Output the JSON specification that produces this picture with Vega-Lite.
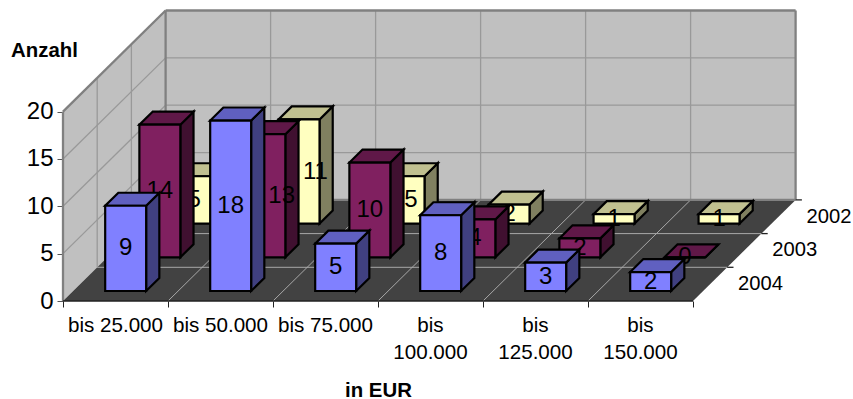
{
  "$schema": "https://vega.github.io/schema/vega-lite/v6.json",
  "width": 853,
  "height": 399,
  "autosize": {"type": "none"},
  "padding": 0,
  "background": "white",
  "config": {"view": {"stroke": null}, "font": "Liberation Sans"},
  "params": [
    {"name": "depthX", "value": 0.3257},
    {"name": "depthY", "value": 3.559}
  ],
  "datasets": {
    "counts": [
      {"range": "bis 25.000", "year": 2002, "count": 5},
      {"range": "bis 50.000", "year": 2002, "count": 11},
      {"range": "bis 75.000", "year": 2002, "count": 5},
      {"range": "bis 100.000", "year": 2002, "count": 2},
      {"range": "bis 125.000", "year": 2002, "count": 1},
      {"range": "bis 150.000", "year": 2002, "count": 1},
      {"range": "bis 25.000", "year": 2003, "count": 14},
      {"range": "bis 50.000", "year": 2003, "count": 13},
      {"range": "bis 75.000", "year": 2003, "count": 10},
      {"range": "bis 100.000", "year": 2003, "count": 4},
      {"range": "bis 125.000", "year": 2003, "count": 2},
      {"range": "bis 150.000", "year": 2003, "count": 0},
      {"range": "bis 25.000", "year": 2004, "count": 9},
      {"range": "bis 50.000", "year": 2004, "count": 18},
      {"range": "bis 75.000", "year": 2004, "count": 5},
      {"range": "bis 100.000", "year": 2004, "count": 8},
      {"range": "bis 125.000", "year": 2004, "count": 3},
      {"range": "bis 150.000", "year": 2004, "count": 2}
    ],
    "frame": [
      {"part": "wall", "c0": 0, "v0": 5, "d0": 3, "c1": 6, "v1": 5, "d1": 3},
      {"part": "wall", "c0": 0, "v0": 10, "d0": 3, "c1": 6, "v1": 10, "d1": 3},
      {"part": "wall", "c0": 0, "v0": 15, "d0": 3, "c1": 6, "v1": 15, "d1": 3},
      {"part": "wall", "c0": 1, "v0": 0, "d0": 3, "c1": 1, "v1": 20, "d1": 3},
      {"part": "wall", "c0": 2, "v0": 0, "d0": 3, "c1": 2, "v1": 20, "d1": 3},
      {"part": "wall", "c0": 3, "v0": 0, "d0": 3, "c1": 3, "v1": 20, "d1": 3},
      {"part": "wall", "c0": 4, "v0": 0, "d0": 3, "c1": 4, "v1": 20, "d1": 3},
      {"part": "wall", "c0": 5, "v0": 0, "d0": 3, "c1": 5, "v1": 20, "d1": 3},
      {"part": "wall", "c0": 0, "v0": 5, "d0": 0, "c1": 0, "v1": 5, "d1": 3},
      {"part": "wall", "c0": 0, "v0": 10, "d0": 0, "c1": 0, "v1": 10, "d1": 3},
      {"part": "wall", "c0": 0, "v0": 15, "d0": 0, "c1": 0, "v1": 15, "d1": 3},
      {"part": "wall", "c0": 0, "v0": 0, "d0": 1, "c1": 0, "v1": 20, "d1": 1},
      {"part": "wall", "c0": 0, "v0": 0, "d0": 2, "c1": 0, "v1": 20, "d1": 2},
      {"part": "floor", "c0": 0, "v0": 0, "d0": 1, "c1": 6, "v1": 0, "d1": 1},
      {"part": "floor", "c0": 0, "v0": 0, "d0": 2, "c1": 6, "v1": 0, "d1": 2},
      {"part": "floor", "c0": 1, "v0": 0, "d0": 0, "c1": 1, "v1": 0, "d1": 3},
      {"part": "floor", "c0": 2, "v0": 0, "d0": 0, "c1": 2, "v1": 0, "d1": 3},
      {"part": "floor", "c0": 3, "v0": 0, "d0": 0, "c1": 3, "v1": 0, "d1": 3},
      {"part": "floor", "c0": 4, "v0": 0, "d0": 0, "c1": 4, "v1": 0, "d1": 3},
      {"part": "floor", "c0": 5, "v0": 0, "d0": 0, "c1": 5, "v1": 0, "d1": 3},
      {"part": "edge", "c0": 0, "v0": 20, "d0": 3, "c1": 6, "v1": 20, "d1": 3},
      {"part": "edge", "c0": 0, "v0": 0, "d0": 3, "c1": 0, "v1": 20, "d1": 3},
      {"part": "edge", "c0": 6, "v0": 0, "d0": 3, "c1": 6, "v1": 20, "d1": 3},
      {"part": "edge", "c0": 0, "v0": 0, "d0": 3, "c1": 6, "v1": 0, "d1": 3},
      {"part": "edge", "c0": 0, "v0": 20, "d0": 0, "c1": 0, "v1": 20, "d1": 3},
      {"part": "edge", "c0": 0, "v0": 0, "d0": 0, "c1": 0, "v1": 20, "d1": 0},
      {"part": "axis", "c0": 0, "v0": 0, "d0": 0, "c1": 6, "v1": 0, "d1": 0},
      {"part": "axis", "c0": 6, "v0": 0, "d0": 1, "c1": 6.06, "v1": 0, "d1": 1},
      {"part": "axis", "c0": 6, "v0": 0, "d0": 2, "c1": 6.06, "v1": 0, "d1": 2},
      {"part": "axis", "c0": 6, "v0": 0, "d0": 3, "c1": 6.06, "v1": 0, "d1": 3}
    ]
  },
  "encoding": {
    "x": {
      "field": "px",
      "type": "quantitative",
      "scale": {"domain": [-0.6, 7.5238], "nice": false, "zero": false},
      "axis": {
        "orient": "bottom",
        "offset": -98,
        "values": [0, 1, 2, 3, 4, 5, 6],
        "labels": false,
        "grid": false,
        "domain": false,
        "tickSize": 6,
        "tickColor": "#222222",
        "title": "in EUR",
        "titleFont": "Liberation Sans",
        "titleFontSize": 20.4,
        "titleFontWeight": "bold",
        "titleColor": "black",
        "titleAnchor": "start",
        "titleAlign": "center",
        "titleBaseline": "middle",
        "titleX": 378,
        "titleY": 89
      }
    },
    "y": {
      "field": "py",
      "type": "quantitative",
      "scale": {"domain": [-10.348, 31.785], "nice": false, "zero": false},
      "axis": {
        "orient": "left",
        "offset": -63,
        "values": [0, 5, 10, 15, 20],
        "grid": false,
        "domain": false,
        "tickSize": 6,
        "tickColor": "#555555",
        "labelFont": "Liberation Sans",
        "labelFontSize": 24,
        "labelColor": "black",
        "labelPadding": 4,
        "title": "Anzahl",
        "titleFont": "Liberation Sans",
        "titleFontSize": 20.4,
        "titleFontWeight": "bold",
        "titleColor": "black",
        "titleAngle": 0,
        "titleAlign": "center",
        "titleBaseline": "middle",
        "titleX": -19,
        "titleY": 50
      }
    }
  },
  "layer": [
    {
      "description": "Back wall",
      "data": {"values": [{"panel": "back"}]},
      "transform": [
        {"calculate": "3 * depthX", "as": "px"},
        {"calculate": "6 + 3 * depthX", "as": "px2"},
        {"calculate": "3 * depthY", "as": "py"},
        {"calculate": "20 + 3 * depthY", "as": "py2"}
      ],
      "mark": {"type": "rect", "fill": "#c0c0c0"},
      "encoding": {"x2": {"field": "px2"}, "y2": {"field": "py2"}}
    },
    {
      "description": "Left wall",
      "data": {"values": [{"depth": 0}, {"depth": 3}]},
      "transform": [
        {"calculate": "datum.depth * depthX", "as": "px"},
        {"calculate": "20 + datum.depth * depthY", "as": "py"},
        {"calculate": "datum.depth * depthY", "as": "py2"}
      ],
      "mark": {"type": "area", "fill": "#c0c0c0", "opacity": 1},
      "encoding": {"y2": {"field": "py2"}}
    },
    {
      "description": "Floor",
      "data": {"values": [{"depth": 0}, {"depth": 3}]},
      "transform": [
        {"calculate": "datum.depth * depthX", "as": "px"},
        {"calculate": "6 + datum.depth * depthX", "as": "px2"},
        {"calculate": "datum.depth * depthY", "as": "py"}
      ],
      "mark": {"type": "area", "orient": "horizontal", "fill": "#424242", "opacity": 1},
      "encoding": {"x2": {"field": "px2"}}
    },
    {
      "description": "Grid lines and frame edges",
      "data": {"name": "frame"},
      "transform": [
        {"calculate": "datum.c0 + datum.d0 * depthX", "as": "px"},
        {"calculate": "datum.c1 + datum.d1 * depthX", "as": "px2"},
        {"calculate": "datum.v0 + datum.d0 * depthY", "as": "py"},
        {"calculate": "datum.v1 + datum.d1 * depthY", "as": "py2"}
      ],
      "layer": [
        {
          "transform": [{"filter": "datum.part === 'wall'"}],
          "mark": {"type": "rule", "stroke": "#999999", "strokeWidth": 1.3},
          "encoding": {"x2": {"field": "px2"}, "y2": {"field": "py2"}}
        },
        {
          "transform": [{"filter": "datum.part === 'floor'"}],
          "mark": {"type": "rule", "stroke": "#a8a8a8", "strokeWidth": 1},
          "encoding": {"x2": {"field": "px2"}, "y2": {"field": "py2"}}
        },
        {
          "transform": [{"filter": "datum.part === 'edge'"}],
          "mark": {"type": "rule", "stroke": "#808080", "strokeWidth": 2.3},
          "encoding": {"x2": {"field": "px2"}, "y2": {"field": "py2"}}
        },
        {
          "transform": [{"filter": "datum.part === 'axis'"}],
          "mark": {"type": "rule", "stroke": "#222222", "strokeWidth": 1.3},
          "encoding": {"x2": {"field": "px2"}, "y2": {"field": "py2"}}
        }
      ]
    },
    {
      "description": "Income range labels under the front edge",
      "data": {
        "values": [
          {"cat": 0, "lines": ["bis 25.000"]},
          {"cat": 1, "lines": ["bis 50.000"]},
          {"cat": 2, "lines": ["bis 75.000"]},
          {"cat": 3, "lines": ["bis", "100.000"]},
          {"cat": 4, "lines": ["bis", "125.000"]},
          {"cat": 5, "lines": ["bis", "150.000"]}
        ]
      },
      "transform": [
        {"calculate": "datum.cat + 0.5", "as": "px"},
        {"calculate": "0", "as": "py"}
      ],
      "mark": {"type": "text", "fontSize": 20.6, "align": "center", "baseline": "alphabetic", "dy": 30.7, "lineHeight": 27.3, "color": "black"},
      "encoding": {"text": {"field": "lines", "type": "nominal"}}
    },
    {
      "description": "Year labels along the depth edge",
      "data": {"values": [{"year": 2002}, {"year": 2003}, {"year": 2004}]},
      "transform": [
        {"calculate": "6 + (2004 - datum.year + 0.5) * depthX", "as": "px"},
        {"calculate": "(2004 - datum.year + 0.5) * depthY", "as": "py"}
      ],
      "mark": {"type": "text", "fontSize": 20.2, "align": "left", "baseline": "middle", "dx": 28, "color": "black"},
      "encoding": {"text": {"field": "year", "type": "nominal"}}
    },
    {
      "description": "Bars, back row first so nearer rows cover farther ones",
      "data": {"name": "counts"},
      "transform": [
        {"calculate": "2004 - datum.year", "as": "depth"},
        {"calculate": "indexof(['bis 25.000','bis 50.000','bis 75.000','bis 100.000','bis 125.000','bis 150.000'], datum.range)", "as": "cat"},
        {"calculate": "datum.cat + 0.305 + (datum.depth + 0.297) * depthX", "as": "left"},
        {"calculate": "datum.cat + 0.695 + (datum.depth + 0.297) * depthX", "as": "right"},
        {"calculate": "(datum.depth + 0.297) * depthY", "as": "base"},
        {"calculate": "datum.base + datum.count", "as": "roof"},
        {"calculate": "0", "as": "near"},
        {"calculate": "1", "as": "far"},
        {"fold": ["near", "far"], "as": ["corner", "t"]},
        {"calculate": "datum.t * 0.386 * depthX", "as": "shiftX"},
        {"calculate": "datum.t * 0.386 * depthY", "as": "shiftY"}
      ],
      "layer": [
        {
          "transform": [{"filter": "datum.year === 2002"}],
          "layer": [
            {
              "transform": [
                {"calculate": "datum.right + datum.shiftX", "as": "px"},
                {"calculate": "datum.roof + datum.shiftY", "as": "py"},
                {"calculate": "datum.base + datum.shiftY", "as": "py2"}
              ],
              "mark": {"type": "area", "fill": "#808060", "stroke": "black", "strokeWidth": 2.2, "opacity": 1},
              "encoding": {"y2": {"field": "py2"}, "detail": {"field": "range"}}
            },
            {
              "transform": [
                {"calculate": "datum.left + datum.shiftX", "as": "px"},
                {"calculate": "datum.right + datum.shiftX", "as": "px2"},
                {"calculate": "datum.roof + datum.shiftY", "as": "py"}
              ],
              "mark": {"type": "area", "orient": "horizontal", "fill": "#c0c090", "stroke": "black", "strokeWidth": 2.2, "opacity": 1},
              "encoding": {"x2": {"field": "px2"}, "detail": {"field": "range"}}
            },
            {
              "transform": [
                {"filter": "datum.t === 0"},
                {"calculate": "datum.left", "as": "px"},
                {"calculate": "datum.right", "as": "px2"},
                {"calculate": "datum.roof", "as": "py"},
                {"calculate": "datum.base", "as": "py2"}
              ],
              "mark": {"type": "rect", "fill": "#ffffc0", "stroke": "black", "strokeWidth": 2.2},
              "encoding": {"x2": {"field": "px2"}, "y2": {"field": "py2"}}
            },
            {
              "description": "The labels of the two middle columns sit right of centre, clear of the bars in front",
              "transform": [
                {"filter": "datum.t === 0"},
                {"calculate": "(datum.left + datum.right) / 2 + (datum.range === 'bis 50.000' ? 0.155 : datum.range === 'bis 75.000' ? 0.065 : 0)", "as": "px"},
                {"calculate": "(datum.roof + datum.base) / 2", "as": "py"}
              ],
              "mark": {"type": "text", "fontSize": 24, "baseline": "middle", "color": "black"},
              "encoding": {"text": {"field": "count", "type": "quantitative"}}
            }
          ]
        },
        {
          "transform": [{"filter": "datum.year === 2003"}],
          "layer": [
            {
              "transform": [
                {"calculate": "datum.right + datum.shiftX", "as": "px"},
                {"calculate": "datum.roof + datum.shiftY", "as": "py"},
                {"calculate": "datum.base + datum.shiftY", "as": "py2"}
              ],
              "mark": {"type": "area", "fill": "#401030", "stroke": "black", "strokeWidth": 2.2, "opacity": 1},
              "encoding": {"y2": {"field": "py2"}, "detail": {"field": "range"}}
            },
            {
              "transform": [
                {"calculate": "datum.left + datum.shiftX", "as": "px"},
                {"calculate": "datum.right + datum.shiftX", "as": "px2"},
                {"calculate": "datum.roof + datum.shiftY", "as": "py"}
              ],
              "mark": {"type": "area", "orient": "horizontal", "fill": "#601848", "stroke": "black", "strokeWidth": 2.2, "opacity": 1},
              "encoding": {"x2": {"field": "px2"}, "detail": {"field": "range"}}
            },
            {
              "transform": [
                {"filter": "datum.t === 0"},
                {"calculate": "datum.left", "as": "px"},
                {"calculate": "datum.right", "as": "px2"},
                {"calculate": "datum.roof", "as": "py"},
                {"calculate": "datum.base", "as": "py2"}
              ],
              "mark": {"type": "rect", "fill": "#802060", "stroke": "black", "strokeWidth": 2.2},
              "encoding": {"x2": {"field": "px2"}, "y2": {"field": "py2"}}
            },
            {
              "description": "The 13 label sits right of centre, clear of the 18 bar in front",
              "transform": [
                {"filter": "datum.t === 0"},
                {"calculate": "(datum.left + datum.right) / 2 + (datum.range === 'bis 50.000' ? 0.16 : 0)", "as": "px"},
                {"calculate": "(datum.roof + datum.base) / 2", "as": "py"}
              ],
              "mark": {"type": "text", "fontSize": 24, "baseline": "middle", "color": "black"},
              "encoding": {"text": {"field": "count", "type": "quantitative"}}
            }
          ]
        },
        {
          "transform": [{"filter": "datum.year === 2004"}],
          "layer": [
            {
              "transform": [
                {"calculate": "datum.right + datum.shiftX", "as": "px"},
                {"calculate": "datum.roof + datum.shiftY", "as": "py"},
                {"calculate": "datum.base + datum.shiftY", "as": "py2"}
              ],
              "mark": {"type": "area", "fill": "#404080", "stroke": "black", "strokeWidth": 2.2, "opacity": 1},
              "encoding": {"y2": {"field": "py2"}, "detail": {"field": "range"}}
            },
            {
              "transform": [
                {"calculate": "datum.left + datum.shiftX", "as": "px"},
                {"calculate": "datum.right + datum.shiftX", "as": "px2"},
                {"calculate": "datum.roof + datum.shiftY", "as": "py"}
              ],
              "mark": {"type": "area", "orient": "horizontal", "fill": "#6060c0", "stroke": "black", "strokeWidth": 2.2, "opacity": 1},
              "encoding": {"x2": {"field": "px2"}, "detail": {"field": "range"}}
            },
            {
              "transform": [
                {"filter": "datum.t === 0"},
                {"calculate": "datum.left", "as": "px"},
                {"calculate": "datum.right", "as": "px2"},
                {"calculate": "datum.roof", "as": "py"},
                {"calculate": "datum.base", "as": "py2"}
              ],
              "mark": {"type": "rect", "fill": "#8080ff", "stroke": "black", "strokeWidth": 2.2},
              "encoding": {"x2": {"field": "px2"}, "y2": {"field": "py2"}}
            },
            {
              "transform": [
                {"filter": "datum.t === 0"},
                {"calculate": "(datum.left + datum.right) / 2", "as": "px"},
                {"calculate": "(datum.roof + datum.base) / 2", "as": "py"}
              ],
              "mark": {"type": "text", "fontSize": 24, "baseline": "middle", "color": "black"},
              "encoding": {"text": {"field": "count", "type": "quantitative"}}
            }
          ]
        }
      ]
    }
  ]
}
